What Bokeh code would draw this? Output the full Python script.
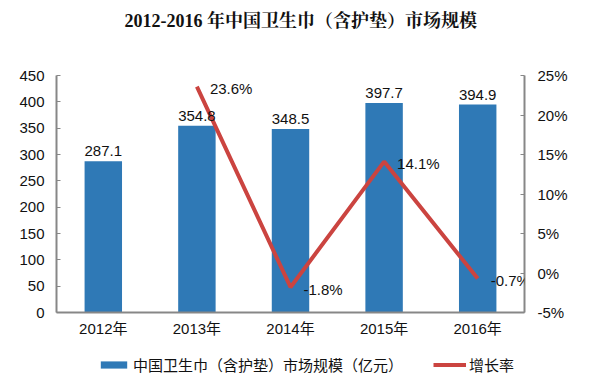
from bokeh.plotting import figure
from bokeh.layouts import column
from bokeh.models import (ColumnDataSource, Range1d, LinearAxis, FixedTicker,
                          PrintfTickFormatter, LabelSet, Legend, LegendItem, FactorRange)
from bokeh.core.properties import value
from bokeh.embed import file_html
from bokeh.resources import INLINE

years = ["2012年", "2013年", "2014年", "2015年", "2016年"]
market = [287.1, 354.8, 348.5, 397.7, 394.9]
growth_years = ["2013年", "2014年", "2015年", "2016年"]
growth = [23.6, -1.8, 14.1, -0.7]
left_ticks = [0, 50, 100, 150, 200, 250, 300, 350, 400, 450]
right_ticks = [-5, 0, 5, 10, 15, 20, 25]
title_text = "2012-2016 年中国卫生巾（含护垫）市场规模"
bar_name = "中国卫生巾（含护垫）市场规模（亿元）"
line_name = "增长率"

BLUE = "#2F79B6"
RED = "#CB4440"
AXIS = "#878787"
SANS = "Liberation Sans"
CJK = "'Liberation Sans', 'Noto Sans CJK SC'"

bar_src = ColumnDataSource(dict(x=years, y=market, label=[f"{v:.1f}" for v in market]))
line_src = ColumnDataSource(dict(x=growth_years, y=growth, label=[f"{v:.1f}%" for v in growth]))

p = figure(width=605, height=353, x_range=FactorRange(*years), y_range=Range1d(0, 450),
           output_backend="svg", toolbar_location=None,
           min_border_left=56, min_border_right=81, min_border_top=75, min_border_bottom=41)
p.outline_line_color = None
p.grid.visible = False
p.background_fill_color = "white"

p.title.text = title_text
p.title.align = "left"
p.title.offset = 68
p.title.text_font = "'Liberation Serif', 'Noto Serif CJK SC', 'Noto Sans CJK SC'"
p.title.text_font_size = "18px"
p.title.text_font_style = "bold"
p.title.text_color = "#111111"
p.title.standoff = 10
p.title.padding = dict(left=0, right=0, top=0, bottom=40)

# left axis
ax = p.yaxis[0]
ax.ticker = FixedTicker(ticks=left_ticks)
ax.major_tick_in = 4
ax.major_tick_out = 0
ax.minor_tick_line_color = None
ax.axis_line_color = AXIS
ax.axis_line_width = 2
ax.major_tick_line_color = AXIS
ax.major_label_text_font = SANS
ax.major_label_text_font_size = "15px"
ax.major_label_text_color = "#111111"
ax.major_label_standoff = 12

# x axis
xa = p.xaxis[0]
xa.major_tick_in = 0
xa.major_tick_out = 0
xa.axis_line_color = AXIS
xa.axis_line_width = 2
xa.major_label_text_font = CJK
xa.major_label_text_font_size = "15px"
xa.major_label_text_color = "#111111"
xa.major_label_standoff = 7

# right axis
p.extra_y_ranges = {"rate": Range1d(-5, 25)}
ra = LinearAxis(y_range_name="rate", ticker=FixedTicker(ticks=right_ticks),
                formatter=PrintfTickFormatter(format="%d%%"))
ra.major_tick_in = 4
ra.major_tick_out = 0
ra.minor_tick_line_color = None
ra.axis_line_color = AXIS
ra.axis_line_width = 2
ra.major_tick_line_color = AXIS
ra.major_label_text_font = SANS
ra.major_label_text_font_size = "15px"
ra.major_label_text_color = "#111111"
ra.major_label_standoff = 13
p.add_layout(ra, "right")

bars = p.vbar(x="x", top="y", width=0.4, source=bar_src, fill_color=BLUE, line_color=None)
line = p.line(x="x", y="y", source=line_src, y_range_name="rate", line_width=4, line_color=RED)

p.add_layout(LabelSet(x="x", y="y", text="label", source=bar_src, y_offset=5,
                      text_align="center", text_baseline="bottom", text_font=value(SANS),
                      text_font_size="15px", text_color="#111111"))
p.add_layout(LabelSet(x="x", y="y", text="label", source=line_src, y_range_name="rate",
                      x_offset=13, y_offset=-2, text_align="left", text_baseline="middle",
                      text_font=value(SANS), text_font_size="15px", text_color="#111111"))

# legend strip below the chart (its renderers share the data but sit outside its view)
lg = figure(width=605, height=30, x_range=FactorRange(*years), y_range=Range1d(1000, 1001),
            output_backend="svg", toolbar_location=None, x_axis_type=None, y_axis_type=None,
            min_border_left=0, min_border_right=0, min_border_top=0, min_border_bottom=0)
lg.outline_line_color = None
lg.grid.visible = False
lg_bar = lg.vbar(x="x", top="y", width=0.4, source=bar_src, fill_color=BLUE, line_color=None)
lg_line = lg.line(x="x", y="y", source=line_src, line_width=4, line_color=RED)
legend = Legend(items=[LegendItem(label=bar_name, renderers=[lg_bar]),
                       LegendItem(label=line_name, renderers=[lg_line])],
                orientation="horizontal", location=(41, 8),
                label_text_font="Noto Sans CJK SC", label_text_font_size="15px",
                label_text_color="#111111",
                glyph_width=33, glyph_height=9, spacing=30, padding=0, margin=0,
                label_standoff=3, border_line_alpha=0, background_fill_alpha=0)
lg.add_layout(legend, "center")

layout = column(p, lg, spacing=0)
open("out.html", "w").write(file_html(layout, INLINE))
